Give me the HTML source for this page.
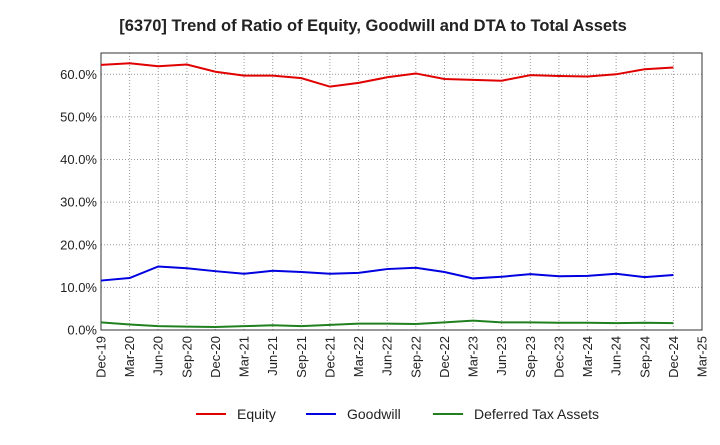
<!DOCTYPE html>
<html><head><meta charset="utf-8"><style>
body{margin:0;background:#fff;font-family:"Liberation Sans",sans-serif}
</style></head><body>
<svg id="c" width="720" height="440" xmlns="http://www.w3.org/2000/svg">
<text x="373" y="31" text-anchor="middle" font-size="16.5" font-weight="bold" fill="#222">[6370]  Trend of Ratio of Equity, Goodwill and DTA to Total Assets</text>
</svg>
<script>
const categories=["Dec-19","Mar-20","Jun-20","Sep-20","Dec-20","Mar-21","Jun-21","Sep-21","Dec-21","Mar-22","Jun-22","Sep-22","Dec-22","Mar-23","Jun-23","Sep-23","Dec-23","Mar-24","Jun-24","Sep-24","Dec-24","Mar-25"];
const equity=[62.2,62.6,61.9,62.3,60.6,59.7,59.7,59.1,57.1,58.0,59.3,60.2,58.9,58.7,58.5,59.8,59.6,59.5,60.0,61.2,61.6];
const goodwill=[11.6,12.2,14.9,14.5,13.8,13.2,13.9,13.6,13.2,13.4,14.3,14.6,13.6,12.1,12.5,13.1,12.6,12.7,13.2,12.4,12.9];
const dta=[1.8,1.3,0.9,0.8,0.7,0.9,1.1,0.9,1.2,1.5,1.5,1.4,1.8,2.2,1.8,1.8,1.7,1.7,1.6,1.7,1.6];
const yTicks=[0,10,20,30,40,50,60];
const svg=document.getElementById('c');const NS="http://www.w3.org/2000/svg";
const L=101,R=702,T=53,B=330,YMAX=65;
const x=i=>L+(R-L)*i/(categories.length-1);
const y=v=>B-(B-T)*v/YMAX;
function mk(t,a){const e=document.createElementNS(NS,t);for(const k in a)e.setAttribute(k,a[k]);svg.appendChild(e);return e;}
categories.forEach((c,i)=>{
 const g=mk('line',{x1:x(i),x2:x(i),y1:T,y2:B,stroke:'#999','stroke-dasharray':'1,2','stroke-width':1});
 
 
 const t=mk('text',{transform:`translate(${x(i)+4.5},${B+6}) rotate(-90)`,'text-anchor':'end','font-size':13,fill:'#222'});
 t.textContent=c;
 
 
});
yTicks.forEach(v=>{
 const g=mk('line',{x1:L,x2:R,y1:y(v),y2:y(v),stroke:'#999','stroke-dasharray':'1,2','stroke-width':1});
 
 
 const t=mk('text',{x:L-4,y:y(v)+4.5,'text-anchor':'end','font-size':13,fill:'#222'});
 t.textContent=v.toFixed(1)+'%';
 
 
});
const fr=mk('rect',{x:L,y:T,width:R-L,height:B-T,fill:'none',stroke:'#333'});


const series=[[equity,'#e00000','equity-line'],[goodwill,'#0000e0','goodwill-line'],[dta,'#208020','dta-line']];
series.forEach(([d,col,n])=>{
 const p=mk('polyline',{points:d.map((v,i)=>x(i)+','+y(v)).join(' '),fill:'none',stroke:col,'stroke-width':2});
 
 
});
const leg=[['Equity','#e00000',196],['Goodwill','#0000e0',306],['Deferred Tax Assets','#208020',433]];
leg.forEach(([t,c,lx])=>{
 const l=mk('line',{x1:lx,x2:lx+30,y1:414,y2:414,stroke:c,'stroke-width':2});
 
 
 const tx=mk('text',{x:lx+41,y:419,'font-size':14,fill:'#222'});
 tx.textContent=t;
 
 
});
</script>
</body></html>
